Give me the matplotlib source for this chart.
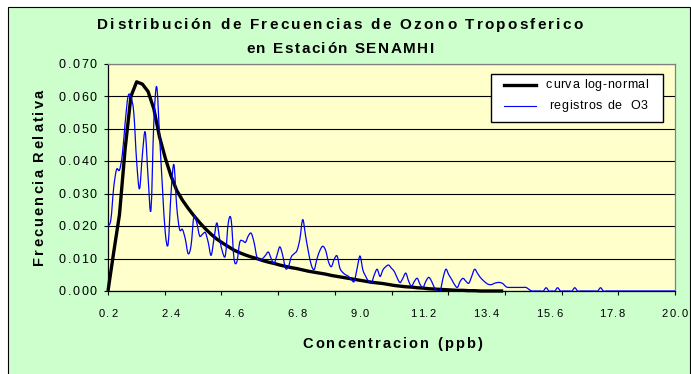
import matplotlib
matplotlib.use('Agg')
import matplotlib.pyplot as plt
import numpy as np
from matplotlib.font_manager import FontProperties
from matplotlib.transforms import IdentityTransform
from matplotlib.patches import Rectangle, PathPatch
from matplotlib.lines import Line2D
from matplotlib.path import Path

W, H = 691, 374
FONT = 'Liberation Sans'

# concentration classes (ppb), one every 0.1
conc = np.round(np.arange(0.2, 20.05, 0.1), 1)

# relative frequency of the O3 records
registros_o3 = [
    0.020, 0.022, 0.032, 0.0375, 0.0373, 0.042, 0.052, 0.060, 0.0598, 0.055,
    0.040, 0.0315, 0.042, 0.049, 0.035, 0.025, 0.052, 0.063, 0.048, 0.032,
    0.018, 0.0145, 0.030, 0.039, 0.026, 0.019, 0.019, 0.016, 0.0115, 0.014,
    0.023, 0.021, 0.017, 0.0175, 0.018, 0.015, 0.011, 0.016, 0.021, 0.016,
    0.012, 0.011, 0.021, 0.022, 0.010, 0.009, 0.015, 0.0155, 0.015, 0.017,
    0.0178, 0.015, 0.0105, 0.0095, 0.010, 0.011, 0.012, 0.010, 0.0085, 0.011,
    0.0136, 0.011, 0.007, 0.0075, 0.0105, 0.0115, 0.0125, 0.016, 0.022, 0.017,
    0.012, 0.008, 0.0066, 0.010, 0.0125, 0.0138, 0.0125, 0.009, 0.0075, 0.0098,
    0.0108, 0.007, 0.0057, 0.005, 0.0045, 0.0035, 0.003, 0.007, 0.0108, 0.0065,
    0.0045, 0.003, 0.0025, 0.005, 0.0067, 0.0045, 0.0065, 0.0075, 0.008, 0.007,
    0.006, 0.004, 0.0026, 0.004, 0.0055, 0.003, 0.0015, 0.003, 0.0039, 0.002,
    0.0011, 0.003, 0.0042, 0.003, 0.001, 0.0002, 0.0, 0.004, 0.0067, 0.005,
    0.0036, 0.002, 0.0011, 0.003, 0.0039, 0.003, 0.0024, 0.0045, 0.0067, 0.0055,
    0.0042, 0.0033, 0.0025, 0.002, 0.002, 0.0024, 0.0026, 0.0026, 0.0022, 0.0013,
    0.0011, 0.0011, 0.0011, 0.0011, 0.0011, 0.0011, 0.0011, 0.0005, 0.0, 0.0,
    0.0, 0.0, 0.0, 0.001, 0.0, 0.0, 0.0, 0.001, 0.0, 0.0,
    0.0, 0.0, 0.0, 0.001, 0.0, 0.0, 0.0, 0.0, 0.0, 0.0,
    0.0, 0.0, 0.001, 0.0, 0.0, 0.0, 0.0, 0.0, 0.0, 0.0,
    0.0, 0.0, 0.0, 0.0, 0.0, 0.0, 0.0, 0.0, 0.0, 0.0,
    0.0, 0.0, 0.0, 0.0, 0.0, 0.0, 0.0, 0.0, 0.0,
]

# fitted log-normal curve, every 0.2 up to 14.0
lognorm_conc = np.round(np.arange(0.2, 14.05, 0.2), 1)
curva_lognormal = [
    0.000, 0.012, 0.0235, 0.044, 0.060, 0.0645, 0.0638, 0.0615, 0.0562, 0.0475,
    0.041, 0.0355, 0.031, 0.028, 0.0255, 0.0232, 0.0211, 0.0192, 0.0175, 0.0160,
    0.0148, 0.0137, 0.0126, 0.0118, 0.0111, 0.0105, 0.0100, 0.0094, 0.0089, 0.0085,
    0.0080, 0.0076, 0.0072, 0.0069, 0.0065, 0.0061, 0.0058, 0.0055, 0.0052, 0.0048,
    0.0045, 0.0042, 0.0039, 0.0036, 0.0033, 0.0030, 0.0027, 0.0025, 0.0023, 0.0020,
    0.0017, 0.0015, 0.0013, 0.0012, 0.0010, 0.0009, 0.0007, 0.0006, 0.0005, 0.0004,
    0.0003, 0.0002, 0.0002, 0.0001, 0.0001, 0.0, 0.0, 0.0, 0.0, 0.0,
]

x_labels = ['0.2', '2.4', '4.6', '6.8', '9.0', '11.2', '13.4', '15.6', '17.8', '20.0']
y_ticks = [0.0, 0.01, 0.02, 0.03, 0.04, 0.05, 0.06, 0.07]

fig = plt.figure(figsize=(W / 100, H / 100), dpi=100)
fig.patch.set_facecolor('white')
renderer = fig.canvas.get_renderer()


def spaced(s, x, y, size, track=0.0, width=None, ha='left', rot=0,
           weight='normal', color='black', z=5):
    """Draw text letter by letter so it can carry extra tracking.
    x, y are pixels from the top-left corner (y is the baseline, or the
    centre of the run for rotated text)."""
    fp = FontProperties(family=FONT, size=size, weight=weight)

    def tw(t):
        return renderer.get_text_width_height_descent(t, fp, ismath=False)[0]

    bar = tw('|')
    natural = tw(s + '|') - bar
    if width is not None:
        track = (width - natural) / (len(s) - 1)
    offs = [tw(s[:k] + '|') - bar + k * track for k in range(len(s))]
    total = natural + (len(s) - 1) * track
    start = {'left': 0, 'center': -total / 2, 'right': -total}[ha]
    for k, ch in enumerate(s):
        if ch == ' ':
            continue
        d = start + offs[k]
        if rot == 0:
            tx, ty = x + d, H - y
        else:
            tx, ty = x, H - y + d
        fig.text(tx, ty, ch, fontproperties=fp, color=color, rotation=rot,
                 rotation_mode='anchor', ha='left', va='baseline',
                 transform=IdentityTransform(), zorder=z)


def smooth_path(x, y):
    """Cubic Bezier path through every point (smoothed line style)."""
    x = np.asarray(x, float)
    y = np.asarray(y, float)
    n = len(x)
    verts = [(x[0], y[0])]
    codes = [Path.MOVETO]
    for i in range(n - 1):
        xa, ya = (x[i - 1], y[i - 1]) if i > 0 else (x[i], y[i])
        xb, yb = (x[i + 2], y[i + 2]) if i + 2 < n else (x[i + 1], y[i + 1])
        c1 = (x[i] + (x[i + 1] - xa) / 6, y[i] + (y[i + 1] - ya) / 6)
        c2 = (x[i + 1] - (xb - x[i]) / 6, y[i + 1] - (yb - y[i]) / 6)
        verts += [c1, c2, (x[i + 1], y[i + 1])]
        codes += [Path.CURVE4] * 3
    return Path(verts, codes)


# green chart area with its border
fig.patches.append(Rectangle((7.5, -5), 682.5, H - 7 + 5, transform=IdentityTransform(),
                             facecolor='#CCFFCC', edgecolor='black', lw=0.8, zorder=-1))

ax = fig.add_axes([108 / W, (H - 291) / H, 567 / W, 227 / H])
ax.set_facecolor('#FFFFCC')
ax.set_xlim(0.2, 20.0)
ax.set_ylim(0, 0.07)

ax.plot(lognorm_conc, curva_lognormal, color='black', lw=2.4,
        solid_joinstyle='round', solid_capstyle='butt', zorder=3, clip_on=False)
ax.add_patch(PathPatch(smooth_path(conc, registros_o3), fill=False,
                       edgecolor='#0000FF', lw=0.9, zorder=4))

ax.set_yticks(y_ticks)
ax.set_xticks(np.linspace(0.2, 20.0, 11))
ax.tick_params(labelbottom=False, labelleft=False, direction='out',
               length=3, width=0.8, color='black')
ax.yaxis.grid(True, color='black', lw=0.8)
ax.set_axisbelow(True)
for side in ('left', 'bottom'):
    ax.spines[side].set_color('black')
    ax.spines[side].set_linewidth(0.9)
for side in ('top', 'right'):
    ax.spines[side].set_color('#808080')
    ax.spines[side].set_linewidth(0.9)

# tick labels
for lab in x_labels:
    xd, _ = ax.transData.transform((float(lab), 0))
    spaced(lab, xd, 317, 8, track=1.6, ha='center')
for v in y_ticks:
    _, yd = ax.transData.transform((0.2, v))
    spaced(f'{v:.3f}', 97, H - yd + 4.2, 9, track=1.7, ha='right')

# titles
spaced('Distribución de Frecuencias de Ozono Troposferico', 340, 29, 11,
       width=486, ha='center', weight='bold')
spaced('en Estación SENAMHI', 340, 53, 11, width=188, ha='center', weight='bold')
spaced('Frecuencia Relativa', 43.5, 177.5, 10.5, width=175, ha='center',
       rot=90, weight='bold')
spaced('Concentracion (ppb)', 392, 348, 10.5, width=179, ha='center', weight='bold')

# legend
fig.add_artist(Rectangle((491, H - 122), 172, 48.5, transform=IdentityTransform(),
                         facecolor='white', edgecolor='black', lw=1, zorder=3))
fig.add_artist(Line2D([504, 536], [H - 84.5, H - 84.5], color='black', lw=2.4,
                      transform=IdentityTransform(), zorder=4))
fig.add_artist(Line2D([504, 536], [H - 106, H - 106], color='#0000FF', lw=0.8,
                      transform=IdentityTransform(), zorder=4))
spaced('curva log-normal', 546, 88, 9, track=0.6)
spaced('registros de  O3', 549, 109, 9, track=0.6)

fig.savefig('out.png', dpi=100)
